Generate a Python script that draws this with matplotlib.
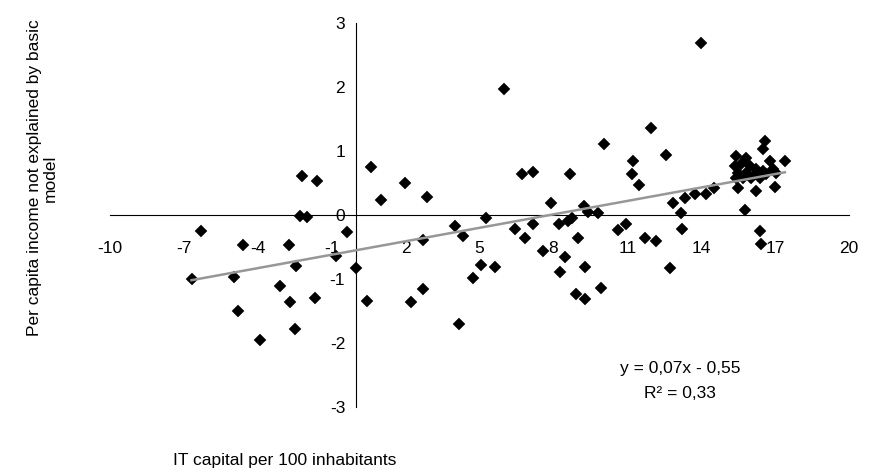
import numpy as np
import matplotlib
matplotlib.use('Agg')
from matplotlib import pyplot as plt

plt.rcParams['font.family'] = ['Liberation Sans', 'DejaVu Sans']

# IT capital per 100 inhabitants
it_capital = [
    -6.69, -6.29, -4.95, -4.79, -4.58, -3.89, -3.08, -2.72, -2.68, -2.47,
    -2.43, -2.27, -1.99, -2.19, -1.58, -1.66, -0.81, -0.37, 0.00,
    0.45, 0.61, 1.01, 1.99, 2.23, 2.72, 2.72, 2.88, 4.02, 4.18,
    4.34, 4.75, 5.07, 5.27, 5.64, 6.00, 6.45,
    6.73, 7.18, 6.86, 7.18, 7.59, 7.91, 8.24, 8.28, 8.48, 8.60,
    8.76, 8.68, 8.92, 9.01, 9.25, 9.29, 9.29, 9.41, 9.82, 9.94,
    10.06, 10.63, 10.95, 11.20, 11.24, 11.48, 11.72, 11.97, 12.17,
    12.58, 12.74, 12.86, 13.18, 13.23, 13.35, 13.75, 14.00, 14.20, 14.52,
    15.42, 15.82, 16.59, 16.51, 16.80, 17.40, 15.38, 15.62, 15.98, 16.23,
    16.51, 15.50, 15.82, 16.19, 16.92, 17.04, 16.63, 15.42, 16.39, 15.70,
    16.02, 15.50, 16.23, 17.00, 15.78, 16.39, 16.43,
]
# per capita income not explained by basic model
residual = [
    -1.00, -0.25, -0.97, -1.50, -0.47, -1.95, -1.11, -0.47, -1.36, -1.78,
    -0.80, -0.02, -0.03, 0.61, 0.53, -1.30, -0.64, -0.27, -0.83,
    -1.34, 0.75, 0.23, 0.50, -1.36, -0.39, -1.16, 0.28, -0.17, -1.70,
    -0.33, -0.98, -0.78, -0.05, -0.81, 1.97, -0.22,
    0.64, 0.67, -0.36, -0.14, -0.56, 0.19, -0.14, -0.89, -0.66, -0.09,
    -0.05, 0.64, -1.23, -0.36, 0.14, -0.81, -1.31, 0.05, 0.03, -1.14,
    1.11, -0.23, -0.14, 0.64, 0.84, 0.47, -0.36, 1.36, -0.41,
    0.94, -0.83, 0.19, 0.03, -0.22, 0.27, 0.33, 2.69, 0.33, 0.42,
    0.92, 0.89, 1.16, 1.03, 0.84, 0.84, 0.77, 0.80, 0.77, 0.72,
    0.69, 0.66, 0.66, 0.64, 0.72, 0.66, 0.64, 0.58, 0.58, 0.58,
    0.58, 0.42, 0.38, 0.44, 0.08, -0.25, -0.45,
]
slope = 0.07
intercept = -0.55
eq_text = 'y = 0,07x - 0,55'
r2_text = 'R² = 0,33'
x_ticks = [-10, -7, -4, -1, 2, 5, 8, 11, 14, 17, 20]
y_ticks = [-3, -2, -1, 0, 1, 2, 3]

fs = 12.5

fig = plt.figure(figsize=(8.7, 4.73), dpi=100)
ax = fig.add_axes([0.1264, 0.1395, 0.8494, 0.8118])

x = np.array(it_capital)
y = np.array(residual)
ax.plot(x, y, linestyle='', marker='D', ms=5.9, color='black', mec='black', mew=0.3, zorder=3)

xl = np.array([x.min(), x.max()])
ax.plot(xl, slope * xl + intercept, color='#979797', lw=1.8, zorder=4)

ax.set_xlim(-10, 20)
ax.set_ylim(-3, 3)
ax.set_xticks(x_ticks)
ax.set_yticks(y_ticks)
ax.set_xticklabels([str(t) for t in x_ticks])
ax.set_yticklabels([str(t) for t in y_ticks])

ax.spines['left'].set_position(('data', 0))
ax.spines['bottom'].set_position(('data', 0))
ax.spines['top'].set_visible(False)
ax.spines['right'].set_visible(False)
for s in ['left', 'bottom']:
    ax.spines[s].set_linewidth(0.8)
    ax.spines[s].set_color('black')
    ax.spines[s].set_zorder(2)

ax.tick_params(axis='x', length=0, pad=19, labelsize=fs)
ax.tick_params(axis='y', length=0, pad=8, labelsize=fs)
ax.patch.set_visible(False)

fig.text(680 / 870, 1 - 369 / 473, eq_text, ha='center', va='center', fontsize=fs)
fig.text(680 / 870, 1 - 393 / 473, r2_text, ha='center', va='center', fontsize=fs)

fig.text(285 / 870, 1 - 460 / 473, 'IT capital per 100 inhabitants',
         ha='center', va='center', fontsize=fs)
fig.text(42 / 870, 1 - 178 / 473, 'Per capita income not explained by basic\nmodel',
         ha='center', va='center', rotation=90, fontsize=fs, multialignment='center',
         linespacing=1.05)

plt.savefig('out.png', dpi=100)
